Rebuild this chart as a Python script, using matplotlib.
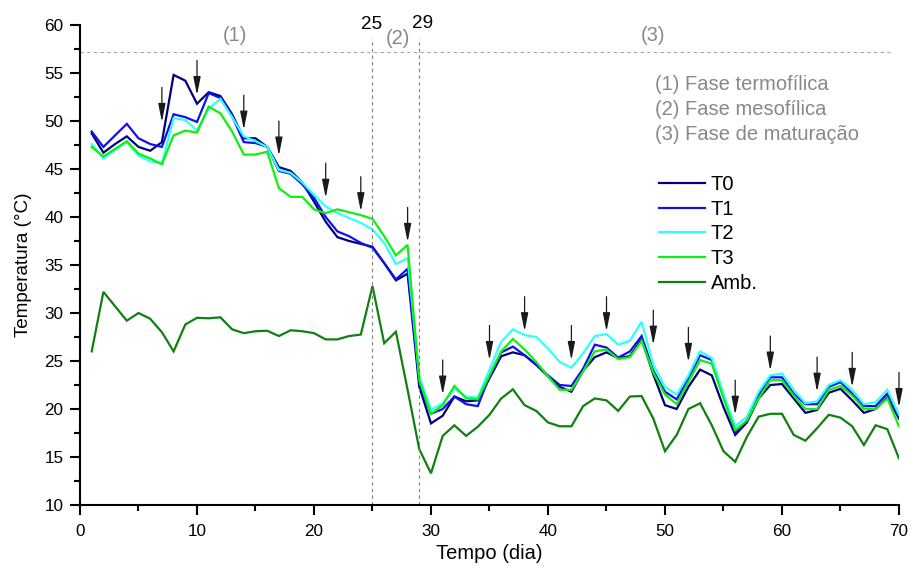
import numpy as np
import matplotlib
matplotlib.use("Agg")
import matplotlib.pyplot as plt
from matplotlib.ticker import MultipleLocator

plt.rcParams['font.family'] = ['Liberation Sans', 'DejaVu Sans']

days = list(range(1, 71))

T0 = [48.7, 46.7, 47.6, 48.4, 47.3, 46.9, 47.8, 54.8, 54.2, 51.8,
      53.0, 52.6, 50.7, 48.2, 48.2, 47.3, 45.2, 44.8, 43.6, 41.6,
      39.5, 37.9, 37.5, 37.2, 36.9, 35.2, 33.4, 34.1, 22.3, 18.5,
      19.3, 21.3, 20.8, 20.9, 23.2, 25.5, 25.9, 25.6, 24.6, 23.4,
      22.3, 21.8, 24.0, 25.4, 25.9, 25.3, 25.5, 27.3, 23.6, 20.4,
      20.0, 22.3, 24.1, 23.5, 20.2, 17.3, 18.6, 21.1, 22.5, 22.6,
      21.1, 19.6, 19.9, 21.7, 22.1, 20.9, 19.6, 20.0, 21.2, 19.0]

T1 = [48.9, 47.3, 48.5, 49.7, 48.2, 47.6, 47.3, 50.7, 50.4, 49.9,
      52.9, 52.4, 50.5, 47.8, 47.7, 47.3, 44.8, 44.5, 43.4, 42.0,
      40.0, 38.5, 38.0, 37.3, 36.8, 35.2, 33.5, 34.6, 22.8, 19.5,
      20.0, 21.3, 20.5, 20.3, 23.4, 25.9, 26.5, 25.6, 24.6, 23.5,
      22.5, 22.4, 24.2, 26.7, 26.4, 25.35, 26.0, 27.6, 24.0, 21.8,
      21.0, 23.2, 25.6, 25.1, 21.4, 17.6, 18.8, 21.4, 23.3, 23.3,
      21.6, 20.5, 20.5, 22.3, 22.8, 21.6, 20.3, 20.3, 21.6, 19.2]

T2 = [47.6, 46.1, 47.0, 47.8, 46.4, 45.8, 45.6, 50.3, 50.1, 49.0,
      51.3, 52.3, 50.4, 48.4, 47.9, 47.3, 44.9, 44.6, 43.6, 42.3,
      41.1, 40.4, 39.9, 39.4, 38.7, 37.3, 35.1, 35.7, 23.4, 19.9,
      20.6, 22.1, 21.3, 21.2, 24.1, 27.0, 28.3, 27.7, 27.5, 26.3,
      24.9, 24.3, 25.8, 27.6, 27.8, 26.7, 27.1, 29.1, 24.6, 22.3,
      21.5, 23.5, 26.0, 25.3, 21.6, 18.2, 19.2, 21.8, 23.5, 23.7,
      22.0, 20.6, 20.8, 22.5, 23.0, 22.0, 20.5, 20.7, 22.0, 19.4]

T3 = [47.3, 46.3, 47.1, 47.9, 46.6, 46.1, 45.5, 48.5, 49.0, 48.8,
      51.5, 50.8, 48.9, 46.5, 46.5, 46.8, 43.0, 42.1, 42.1, 40.8,
      40.4, 40.8, 40.5, 40.2, 39.8, 38.0, 36.0, 37.1, 23.0, 19.5,
      20.4, 22.4, 21.1, 21.0, 23.5, 26.0, 27.3, 26.2, 24.9, 23.4,
      22.0, 22.0, 23.9, 26.0, 26.2, 25.2, 25.4, 27.1, 23.8, 21.5,
      20.5, 22.8, 25.1, 24.7, 21.1, 17.8, 18.8, 21.1, 23.0, 23.0,
      21.4, 20.0, 20.0, 22.0, 22.4, 21.4, 20.0, 20.0, 21.1, 18.2]

AMB = [26.0, 32.2, 30.7, 29.2, 30.0, 29.4, 28.0, 26.0, 28.8, 29.5,
       29.45, 29.55, 28.3, 27.9, 28.1, 28.15, 27.6, 28.2, 28.1, 27.9,
       27.25, 27.25, 27.6, 27.75, 32.8, 26.85, 28.05, 22.0, 15.8, 13.3,
       17.2, 18.3, 17.2, 18.15, 19.4, 21.1, 22.05, 20.4, 19.8, 18.6,
       18.2, 18.2, 20.3, 21.1, 20.9, 19.8, 21.3, 21.35, 19.0, 15.6,
       17.3, 20.0, 20.6, 18.3, 15.6, 14.5, 17.1, 19.2, 19.5, 19.5,
       17.3, 16.7, 18.0, 19.4, 19.1, 18.2, 16.25, 18.3, 17.9, 14.85]

series_labels = ['T0', 'T1', 'T2', 'T3', 'Amb.']
series_colors = ['#000080', '#1010f0', '#30ffff', '#10f010', '#108010']

# turning days (arrows) and the temperature at the arrow tip
arrow_days = [7, 10, 14, 17, 21, 24, 28, 31, 35, 38, 42, 45, 49, 52, 56, 59, 63, 66, 70]
arrow_tips = [49.9, 52.7, 49.1, 46.4, 42.0, 40.6, 37.4, 21.5, 25.1, 28.1,
              25.1, 28.1, 26.7, 24.9, 19.4, 24.0, 21.8, 22.3, 20.2]
arrow_len = 3.6

phase_bounds = [25, 29]
phase_marks = ['(1)', '(2)', '(3)']
phase_mark_x = [13.2, 27.2, 49.0]
phase_desc = ['(1) Fase termofílica', '(2) Fase mesofílica', '(3) Fase de maturação']

fig = plt.figure(figsize=(9.12, 5.66), dpi=100)
ax = fig.add_axes([80/912, 61/566, 819/912, 480/566])

for data, lab, col in zip([T0, T1, T2, T3, AMB], series_labels, series_colors):
    ax.plot(days, data, color=col, lw=1.6, label=lab, solid_joinstyle='miter')

for d, t in zip(arrow_days, arrow_tips):
    ax.annotate('', xy=(d, t), xytext=(d, t + arrow_len),
                arrowprops=dict(arrowstyle='-|>,head_length=1.1,head_width=0.22',
                                color='#1a1a1a', lw=0.9, shrinkA=0, shrinkB=0,
                                mutation_scale=10))

# phase separators
for b in phase_bounds:
    ax.plot([b, b], [10, 58.6], color='#808080', lw=0.8, ls=(0, (3, 3)))
ax.plot([0, 69.3], [57.2, 57.2], color='#a8a8a8', lw=0.8, ls=(0, (3, 3)))

ax.text(24.9, 60.1, '25', ha='center', va='center', fontsize=13.6, color='black')
ax.text(29.3, 60.2, '29', ha='center', va='center', fontsize=13.6, color='black')
ax.text(phase_mark_x[0], 58.95, phase_marks[0], ha='center', va='center', fontsize=14.5, color='#888888')
ax.text(phase_mark_x[1], 58.6, phase_marks[1], ha='center', va='center', fontsize=14.5, color='#888888')
ax.text(phase_mark_x[2], 58.95, phase_marks[2], ha='center', va='center', fontsize=14.5, color='#888888')

for i, s in enumerate(phase_desc):
    ax.text(49.15, 53.85 - i * 2.65, s, ha='left', va='center', fontsize=14.5, color='#888888')

ax.set_xlim(0, 70)
ax.set_ylim(10, 60)
ax.xaxis.set_major_locator(MultipleLocator(10))
ax.xaxis.set_minor_locator(MultipleLocator(5))
ax.yaxis.set_major_locator(MultipleLocator(5))
ax.yaxis.set_minor_locator(MultipleLocator(2.5))

for sp in ['top', 'right']:
    ax.spines[sp].set_visible(False)
for sp in ['left', 'bottom']:
    ax.spines[sp].set_linewidth(1.5)

ax.tick_params(which='major', direction='out', length=7, width=1.5, labelsize=12.3)
ax.tick_params(axis='x', which='major', pad=7)
ax.tick_params(axis='y', which='major', pad=5)
ax.tick_params(which='minor', direction='out', length=4, width=1.5)

ax.set_xlabel('Tempo (dia)', fontsize=14.5, labelpad=3)
ax.set_ylabel('Temperatura (°C)', fontsize=13.6, labelpad=9)

leg = ax.legend(loc='upper left', bbox_to_anchor=(0.707, 0.688), frameon=False,
                fontsize=14.5, handlelength=2.3, handletextpad=0.28,
                labelspacing=0.29, borderpad=0, borderaxespad=0)

fig.savefig('out.png', dpi=100, facecolor='white')
